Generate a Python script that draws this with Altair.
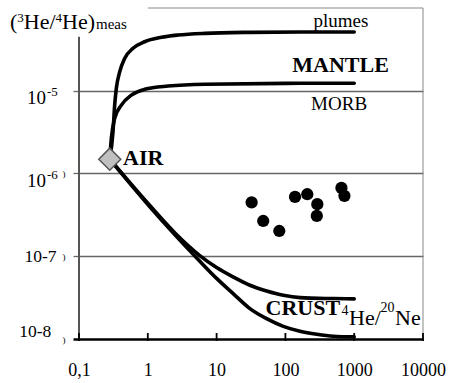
import altair as alt
import pandas as pd

FONT = "Liberation Serif"

# ---------------- data ----------------
air_x = [0.28]
air_y = [1.49e-6]

sample_x = [32.3, 47.6, 81.5, 138, 208, 291, 286, 652, 721]
sample_y = [4.47e-7, 2.67e-7, 2.02e-7, 5.21e-7, 5.62e-7, 4.26e-7, 3.07e-7, 6.70e-7, 5.37e-7]

plumes_x = [0.28, 0.312, 0.330, 0.349, 0.390, 0.461, 0.610, 0.90, 1.58, 2.75, 6.75, 30.5, 163, 1000]
plumes_y = [1.49e-6, 3.19e-6, 6.71e-6, 1.07e-5, 1.69e-5, 2.46e-5, 3.26e-5, 3.91e-5, 4.42e-5,
            4.71e-5, 4.94e-5, 5.08e-5, 5.13e-5, 5.13e-5]

morb_x = [0.28, 0.295, 0.330, 0.413, 0.578, 0.90, 1.97, 6.75, 163, 1000]
morb_y = [1.49e-6, 2.65e-6, 4.63e-6, 6.71e-6, 8.86e-6, 1.04e-5, 1.14e-5, 1.20e-5, 1.23e-5, 1.23e-5]

crust_hi_x = [0.28, 1.07, 2.5, 5.70, 10.0, 17.4, 30.5, 53.4, 93.2, 163, 498, 1000]
crust_hi_y = [1.49e-6, 4.1e-7, 1.9e-7, 1.02e-7, 7.3e-8, 5.62e-8, 4.46e-8, 3.80e-8, 3.37e-8,
              3.16e-8, 3.08e-8, 3.05e-8]

crust_lo_x = [0.28, 1.07, 2.5, 5.70, 10.0, 17.4, 30.5, 53.4, 93.2, 163, 286, 498, 1000]
crust_lo_y = [1.49e-6, 3.95e-7, 1.8e-7, 8.7e-8, 5.4e-8, 3.54e-8, 2.33e-8, 1.76e-8, 1.42e-8,
              1.24e-8, 1.14e-8, 1.08e-8, 1.06e-8]

x_tick_values = [0.1, 1, 10, 100, 1000, 10000]
x_tick_labels = ["0,1", "1", "10", "100", "1000", "10000"]

y_tick_values = [1e-8, 1e-7, 1e-6, 1e-5]
y_sup_values = [1e-5, 1e-6]
y_sup_base = ["10", "10"]
y_sup_exp = ["-5", "-6"]
y_paren_values = [1e-6, 1e-7, 1e-8]

# ---------------- scales / axes ----------------
xscale = alt.Scale(type="log", domain=[0.1, 10000])
yscale = alt.Scale(type="log", domain=[1e-8, 1e-4])

label_expr = " : ".join(
    f"datum.value == {v} ? '{l}'" for v, l in zip(x_tick_values, x_tick_labels)
) + " : ''"

x_axis = alt.Axis(
    values=x_tick_values, labelExpr=label_expr, grid=False, domain=False, ticks=False,
    labelFont=FONT, labelFontSize=18, labelColor="black", labelPadding=22,
    labelFlush=False, labelOverlap=False, title=None,
)
y_axis = alt.Axis(
    values=y_tick_values, labels=False, domain=False, tickSize=6,
    tickColor={"condition": {"test": "datum.value < 2e-8", "value": "black"}, "value": "#666"},
    tickWidth={"condition": {"test": "datum.value < 2e-8", "value": 2.5}, "value": 1.3},
    grid=True,
    gridColor={"condition": {"test": "datum.value < 2e-8", "value": "black"}, "value": "#666"},
    gridWidth={"condition": {"test": "datum.value < 2e-8", "value": 2.5}, "value": 1.3},
    title=None,
)

X = alt.X("x:Q", scale=xscale, axis=x_axis)
Y = alt.Y("y:Q", scale=yscale, axis=y_axis)

# ---------------- layers ----------------
curves = {
    "plumes": (plumes_x, plumes_y),
    "morb": (morb_x, morb_y),
    "crust_hi": (crust_hi_x, crust_hi_y),
    "crust_lo": (crust_lo_x, crust_lo_y),
}
rows = []
for name, (xs, ys) in curves.items():
    for i, (a, b) in enumerate(zip(xs, ys)):
        rows.append({"curve": name, "i": i, "x": a, "y": b})
lines_df = pd.DataFrame(rows)

lines = alt.Chart(lines_df).mark_line(
    color="black", strokeWidth=3.6, interpolate="monotone", strokeCap="round"
).encode(x=X, y=Y, detail="curve:N", order="i:Q")

frame_df = pd.DataFrame({
    "x": [0.1, 1, 10000], "x2": [0.1, 10000, 10000],
    "y": [1e-8, 1e-4, 1e-8], "y2": [4.5e-5, 1e-4, 1e-4],
    "c": ["#555", "#888", "#888"], "w": [2, 1, 1],
})
frame = alt.Chart(frame_df).mark_rule().encode(
    x=X, x2="x2:Q", y=Y, y2="y2:Q",
    color=alt.Color("c:N", scale=None), strokeWidth=alt.StrokeWidth("w:Q", scale=None),
)

xticks = alt.Chart(pd.DataFrame({"x": x_tick_values, "y": [1e-8] * len(x_tick_values)})).mark_tick(
    orient="vertical", size=8, thickness=1.8, color="black", opacity=1, yOffset=-2
).encode(x=X, y=Y)

samples = alt.Chart(pd.DataFrame({"x": sample_x, "y": sample_y})).mark_point(
    shape="circle", filled=True, color="black", size=150, opacity=1
).encode(x=X, y=Y)

air = alt.Chart(pd.DataFrame({"x": air_x, "y": air_y})).mark_point(
    shape="diamond", filled=True, fill="#c0c0c0", stroke="#555", strokeWidth=1.5,
    size=484, opacity=1
).encode(x=X, y=Y)


def note(text, x, y, size, bold=False, align="left", dx=0, dy=0):
    return alt.Chart(pd.DataFrame({"x": [x], "y": [y], "t": [text]})).mark_text(
        font=FONT, fontSize=size, fontWeight="bold" if bold else "normal",
        align=align, baseline="alphabetic", dx=dx, dy=dy, color="black",
    ).encode(x=X, y=Y, text="t:N")


notes = [
    note("plumes", 641, 5.94e-5, 19, align="center"),
    note("MANTLE", 634, 1.70e-5, 22, bold=True, align="center"),
    note("MORB", 603, 5.83e-6, 19, align="center"),
    note("AIR", 0.436, 1.26e-6, 22, bold=True),
    note("CRUST", 645, 1.934e-8, 22, bold=True, align="right", dx=-1),
    note("4", 645, 1.934e-8, 14, dx=0.5),
    note("He/", 645, 1.934e-8, 22, dx=8, dy=10),
    note("20", 645, 1.934e-8, 14, dx=39.5, dy=-3.5),
    note("Ne", 645, 1.934e-8, 22, dx=54, dy=10),
]


def ylab(values, texts, xpix, size, dy, align="right"):
    return alt.Chart(pd.DataFrame({"y": values, "t": texts})).mark_text(
        font=FONT, fontSize=size, align=align, baseline="alphabetic", dy=dy, color="black",
    ).encode(x=alt.value(xpix), y=Y, text="t:N")


ylabels = [
    ylab(y_sup_values, y_sup_base, -33, 19, 13),
    ylab(y_sup_values, y_sup_exp, -32, 13, 5.5, align="left"),
    ylab([1e-7], ["10-7"], -22.4, 17.5, 6),
    ylab([1e-8], ["10-8"], -27.7, 17.5, -2),
    ylab(y_paren_values, [")"] * 3, -16.4, 9, 3.5, align="left"),
]


def tpiece(text, xpix, ypix, size):
    return alt.Chart(pd.DataFrame({"t": [text]})).mark_text(
        font=FONT, fontSize=size, align="left", baseline="alphabetic", color="black",
    ).encode(x=alt.value(xpix), y=alt.value(ypix), text="t:N")


ox, oy = 79, 8
title = [
    tpiece("(", 10 - ox, 28.5 - oy, 22),
    tpiece("3", 17.3 - ox, 21.7 - oy, 13),
    tpiece("He/", 23.8 - ox, 28.5 - oy, 22),
    tpiece("4", 55.6 - ox, 21.7 - oy, 13),
    tpiece("He)", 62.1 - ox, 28.5 - oy, 22),
    tpiece("meas", 96 - ox, 28.5 - oy, 15),
]

chart = alt.layer(
    lines, frame, xticks, samples, air, *notes, *ylabels, *title
).properties(
    width=344, height=331,
    autosize=alt.AutoSizeParams(type="none"),
    padding={"left": 79, "top": 8, "right": 27, "bottom": 44},
    background="white",
).configure_view(stroke=None)

chart.save("out.html", embed_options={"renderer": "svg", "actions": False})
